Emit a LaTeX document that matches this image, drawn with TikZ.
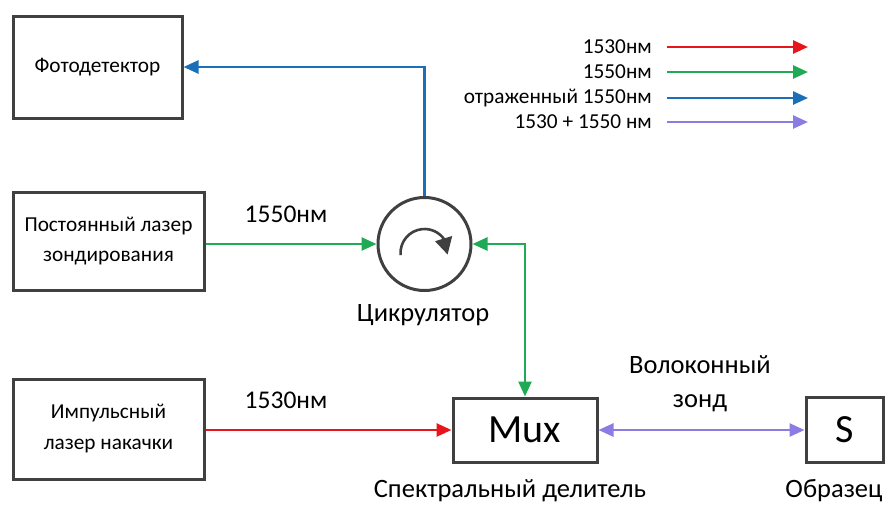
\documentclass[tikz,border=0pt]{standalone}
\usepackage{fontspec}
\setmainfont{Carlito}
\usetikzlibrary{arrows.meta}
\definecolor{cred}{HTML}{E8161C}
\definecolor{cgreen}{HTML}{1FAA55}
\definecolor{cblue}{HTML}{1B6EB8}
\definecolor{cpurple}{HTML}{8A7CE2}
\definecolor{cbox}{HTML}{404040}
\begin{document}
\begin{tikzpicture}[x=1pt,y=-1pt,
  blk/.style={draw=cbox,line width=3pt,fill=white,inner sep=0pt,align=center},
  txt/.style={inner sep=0pt,align=center},
  wire/.style={line width=2.6pt,-{Triangle[length=15pt,width=13pt]}},
  wire2/.style={line width=2.6pt,{Triangle[length=15pt,width=13pt]}-{Triangle[length=15pt,width=13pt]}}]
\useasboundingbox (0,0) rectangle (894,504);
% boxes
\node[blk,minimum width=169pt,minimum height=102pt,font=\fontsize{21.3}{25}\selectfont] (pd) at (97.5,67) {Фотодетектор};
\node[blk,minimum width=191pt,minimum height=98pt,font=\fontsize{21.3}{30}\selectfont] (cw) at (108.5,241) {Постоянный лазер\\зондирования};
\node[blk,minimum width=191pt,minimum height=100pt,font=\fontsize{21.3}{31}\selectfont] (pl) at (108.5,429) {Импульсный\\лазер накачки};
\node[blk,minimum width=144pt,minimum height=64pt,font=\fontsize{40}{44}\selectfont] (mux) at (525,430) {Mux};
\node[blk,minimum width=77pt,minimum height=65pt,font=\fontsize{40}{44}\selectfont] (s) at (844.5,430) {S};
\node[circle,draw=cbox,line width=3pt,minimum size=93pt,inner sep=0pt] (circ) at (424.5,244) {};
% circulator direction mark
\draw[cbox,line width=2.6pt] (circ.center) ++(0,9) ++(175:24) arc[start angle=175,end angle=326,radius=24];
\fill[cbox] (circ.center) ++(10.5,-2.8) -- ++(17.2,-5.2) -- ++(-4.6,18.5) -- cycle;
% labels
\node[txt,font=\fontsize{25.5}{30}\selectfont] (l1550) at (286,214) {1550нм};
\node[txt,font=\fontsize{25.5}{30}\selectfont] (l1530) at (286,400) {1530нм};
\node[txt,font=\fontsize{26.5}{31}\selectfont] (lcirc) at (423,315) {Цикрулятор};
\node[txt,font=\fontsize{26.5}{34}\selectfont] (lfib) at (700,384) {Волоконный\\зонд};
\node[txt,font=\fontsize{26.5}{31}\selectfont] (lmux) at (510,491) {Спектральный делитель};
\node[txt,font=\fontsize{26.5}{31}\selectfont] (ls) at (834,491) {Образец};
% connectors
\coordinate (bend1) at (circ.center |- pd.east);
\draw[wire,cblue] (circ.north) -- (bend1) -- (pd.east);
\draw[wire,cgreen] (cw.east |- circ.center) -- (circ.west);
\coordinate (bend2) at (mux.north |- circ.center);
\draw[wire2,cgreen] (circ.east) -- (bend2) -- (mux.north);
\draw[wire,cred] (pl.east |- mux.west) -- (mux.west);
\draw[wire2,cpurple] (mux.east) -- (s.west);
% legend
\foreach \t/\c/\y [count=\i] in {1530нм/cred/47,1550нм/cgreen/72,отраженный 1550нм/cblue/98,1530 + 1550 нм/cpurple/122}{
  \node[txt,anchor=east,font=\fontsize{21.3}{25}\selectfont] (lg\i) at (652,\y) {\t};
  \coordinate (la\i) at (667,\y);
  \coordinate (lb\i) at (808,\y);
  \draw[wire,\c] (la\i) -- (lb\i);
}
\end{tikzpicture}
\end{document}
